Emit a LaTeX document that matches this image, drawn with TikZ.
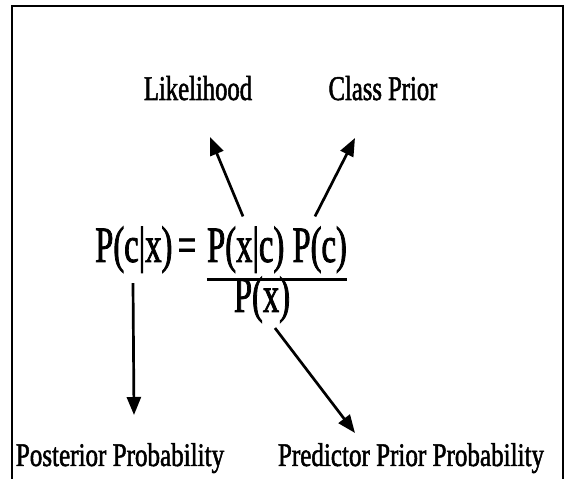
\documentclass[tikz,border=0pt]{standalone}
\usepackage{fontspec}
\setmainfont{Liberation Serif}
\newfontfamily\lblfont[FakeStretch=0.71,FakeBold=1.5]{Liberation Serif}
\newfontfamily\botfont[FakeStretch=0.76,FakeBold=1.5]{Liberation Serif}
\newfontfamily\eqnfont[FakeStretch=0.64,FakeBold=1.5]{Liberation Serif}
\usetikzlibrary{arrows.meta,positioning,calc}

\begin{document}
\begin{tikzpicture}[x=1pt,y=1pt,
    toplbl/.style={inner sep=0pt,anchor=base,font=\lblfont\fontsize{34.7}{40}\selectfont},
    botlbl/.style={inner sep=0pt,anchor=base,font=\botfont\fontsize{33}{38}\selectfont},
    eqn/.style={inner sep=0pt,anchor=base,font=\eqnfont\fontsize{51}{58}\selectfont},
    arr/.style={-{Triangle[length=18pt,width=14pt]},line width=2.7pt}]
  \useasboundingbox (0,0) rectangle (566,479);
  % frame, open at the bottom
  \draw[line width=2pt] (12,-5) -- (12,473) -- (563,473) -- (563,-5);

  % Bayes rule
  \node[eqn,anchor=base west] (lhs) at (95,217) {P(c|x)};
  \node[eqn] (eqs) at (187,217) {=};
  \node[eqn] (num) at (277,217) {P(x|c) P(c)};
  \node[eqn] (den) at (262,167) {P(x)};
  \draw[line width=2.8pt] ([yshift=-6pt]num.south west) -- ([yshift=-6pt]num.south east);

  % labels
  \node[toplbl] (lik) at (198,379) {Likelihood};
  \node[toplbl] (prior) at (383,379) {Class Prior};
  \node[botlbl] (post) at (120,13) {Posterior Probability};
  \node[botlbl] (pred) at (411,13) {Predictor Prior Probability};

  % arrow ends
  \coordinate (likfoot) at ([xshift=-34pt,yshift=10pt]num.north);
  \coordinate (likhead) at ([xshift=12pt,yshift=-37pt]lik.base);
  \coordinate (priorfoot) at ([xshift=38pt,yshift=10pt]num.north);
  \coordinate (priorhead) at ([xshift=-28pt,yshift=-38pt]prior.base);
  \coordinate (postfoot) at ([xshift=38pt,yshift=-10pt]lhs.south west);
  \coordinate (posthead) at ([xshift=14pt,yshift=51pt]post.base);
  \coordinate (predfoot) at ([xshift=13pt,yshift=-5pt]den.south);
  \coordinate (predhead) at ([xshift=-56pt,yshift=33pt]pred.base);

  \draw[arr] (likfoot) -- (likhead);
  \draw[arr] (priorfoot) -- (priorhead);
  \draw[arr] (postfoot) -- (posthead);
  \draw[arr] (predfoot) -- (predhead);
\end{tikzpicture}
\end{document}
